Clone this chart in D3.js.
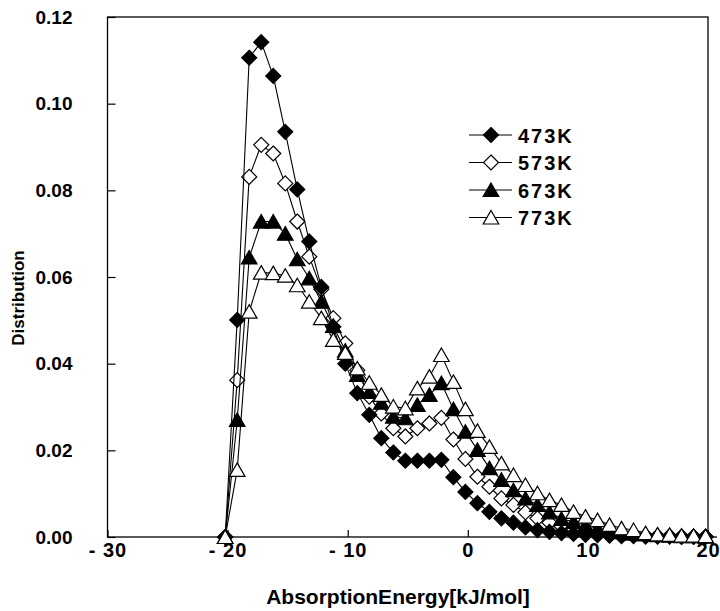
<!DOCTYPE html>
<html>
<head>
<meta charset="utf-8">
<script src="https://cdn.jsdelivr.net/npm/d3@7"></script>
<style>
  html, body { margin: 0; padding: 0; background: #fff; }
  svg { display: block; }
  text { font-family: "Liberation Sans", Arial, Helvetica, sans-serif; font-weight: bold; fill: #000; }
</style>
</head>
<body>
<svg id="chart" width="720" height="611"></svg>
<script>
// ---- data ----
const energy = [-20.2, -19.2, -18.2, -17.2, -16.2, -15.2, -14.2, -13.2, -12.2, -11.2,
  -10.2, -9.2, -8.2, -7.2, -6.2, -5.2, -4.2, -3.2, -2.2, -1.2,
  -0.2, 0.8, 1.8, 2.8, 3.8, 4.8, 5.8, 6.8, 7.8, 8.8,
  9.8, 10.8, 11.8, 12.8, 13.8, 14.8, 15.8, 16.8, 17.8, 18.8, 19.8];

const d473 = [0, 0.0501, 0.1106, 0.1142, 0.1064, 0.0935, 0.0802, 0.0682, 0.0577, 0.0485,
  0.0400, 0.0332, 0.0282, 0.0228, 0.0195, 0.0176, 0.0176, 0.0176, 0.0178, 0.0138,
  0.0104, 0.0078, 0.0058, 0.0043, 0.0033, 0.0022, 0.0016, 0.0012, 0.0009, 0.0007,
  0.0005, 0.0004, 0.0003, 0.0002, 0.0002, 0.0001, 0.0001, 0.0001, 0, 0, 0];

const d573 = [0, 0.0362, 0.0831, 0.0905, 0.0885, 0.0816, 0.0728, 0.0647, 0.0572, 0.0505,
  0.0447, 0.0385, 0.0324, 0.0285, 0.0251, 0.0232, 0.0251, 0.0262, 0.0275, 0.0225,
  0.0180, 0.0139, 0.0116, 0.0089, 0.0074, 0.0057, 0.0043, 0.0033, 0.0025, 0.0019,
  0.0014, 0.0010, 0.0008, 0.0006, 0.0004, 0.0003, 0.0002, 0.0002, 0.0001, 0.0001, 0.0001];

const d673 = [0, 0.0270, 0.0645, 0.0728, 0.0728, 0.0700, 0.0641, 0.0597, 0.0543, 0.0487,
  0.0430, 0.0374, 0.0335, 0.0310, 0.0278, 0.0274, 0.0305, 0.0328, 0.0355, 0.0295,
  0.0243, 0.0201, 0.0159, 0.0132, 0.0108, 0.0089, 0.0074, 0.0057, 0.0042, 0.0035,
  0.0027, 0.0020, 0.0015, 0.0011, 0.0008, 0.0006, 0.0004, 0.0003, 0.0002, 0.0002, 0.0001];

const d773 = [0, 0.0155, 0.0520, 0.0610, 0.0609, 0.0603, 0.0581, 0.0543, 0.0505, 0.0455,
  0.0425, 0.0389, 0.0356, 0.0328, 0.0301, 0.0297, 0.0343, 0.0370, 0.0420, 0.0358,
  0.0295, 0.0245, 0.0208, 0.0170, 0.0143, 0.0120, 0.0101, 0.0085, 0.0074, 0.0058,
  0.0047, 0.0039, 0.0028, 0.0020, 0.0016, 0.0009, 0.0006, 0.0005, 0.0003, 0.0003, 0.0002];

const seriesNames = ["473K", "573K", "673K", "773K"];
const xTicks = [-30, -20, -10, 0, 10, 20];
const xTickLabels = ["- 30", "- 20", "- 10", "0", "10", "20"];
const yTicks = [0, 0.02, 0.04, 0.06, 0.08, 0.10, 0.12];
const yTickLabels = ["0.00", "0.02", "0.04", "0.06", "0.08", "0.10", "0.12"];
const xTitle = "AbsorptionEnergy[kJ/mol]";
const yTitle = "Distribution";

// ---- layout ----
const L = 107.5, R = 708, T = 17, B = 537;
const svg = d3.select("#chart");
const x = d3.scaleLinear().domain([-30, 20]).range([L, R]);
const y = d3.scaleLinear().domain([0, 0.12]).range([B, T]);

// marker shapes
const diamondPath = "M0,-7.5L7.5,0L0,7.5L-7.5,0Z";
const trianglePath = "M0,-7L7.8,6.5L-7.8,6.5Z";
const styles = {
  "473K": { path: diamondPath, fill: "#000" },
  "573K": { path: diamondPath, fill: "#fff" },
  "673K": { path: trianglePath, fill: "#000" },
  "773K": { path: trianglePath, fill: "#fff" }
};
const dataByName = { "473K": d473, "573K": d573, "673K": d673, "773K": d773 };

// frame
svg.append("rect").attr("x", L).attr("y", T).attr("width", R - L).attr("height", B - T)
  .attr("fill", "none").attr("stroke", "#000").attr("stroke-width", 1.3);
svg.append("line").attr("x1", R).attr("x2", R + 9).attr("y1", B).attr("y2", B)
  .attr("stroke", "#000").attr("stroke-width", 1.3);

// axes
const xAxis = d3.axisBottom(x).tickValues(xTicks).tickSizeInner(-7).tickSizeOuter(0)
  .tickPadding(6).tickFormat((d, i) => xTickLabels[i]);
const gx = svg.append("g").attr("transform", `translate(0,${B})`).call(xAxis);
gx.select(".domain").remove();
gx.selectAll("line").attr("stroke", "#000").attr("stroke-width", 1.2);
gx.selectAll("text").attr("font-size", 20).attr("font-family", "Liberation Sans, Arial, sans-serif")
  .attr("font-weight", "bold").attr("fill", "#000").attr("letter-spacing", 1);

const yAxis = d3.axisLeft(y).tickValues(yTicks).tickSizeInner(-8).tickSizeOuter(0)
  .tickPadding(35).tickFormat((d, i) => yTickLabels[i]);
const gy = svg.append("g").attr("transform", `translate(${L},0)`).call(yAxis);
gy.select(".domain").remove();
gy.selectAll("line").attr("stroke", "#000").attr("stroke-width", 1.2);
gy.selectAll("text").attr("font-size", 19).attr("font-family", "Liberation Sans, Arial, sans-serif")
  .attr("font-weight", "bold").attr("fill", "#000");

// titles
svg.append("text").attr("x", 398).attr("y", 604).attr("text-anchor", "middle")
  .attr("font-size", 21).text(xTitle);
svg.append("text").attr("transform", "translate(24,298) rotate(-90)").attr("text-anchor", "middle")
  .attr("font-size", 17).text(yTitle);

// series
const line = d3.line().x((d, i) => x(energy[i])).y(d => y(d));
const drawOrder = ["573K", "473K", "673K", "773K"];
drawOrder.forEach(name => {
  const vals = dataByName[name];
  const g = svg.append("g");
  g.append("path").attr("d", line(vals)).attr("fill", "none").attr("stroke", "#000").attr("stroke-width", 1.1);
  g.selectAll("path.m").data(vals).enter().append("path").attr("class", "m")
    .attr("d", styles[name].path)
    .attr("transform", (d, i) => `translate(${x(energy[i])},${y(d)})`)
    .attr("fill", styles[name].fill).attr("stroke", "#000").attr("stroke-width", 1.2);
});

// legend
const legY0 = 135, legStep = 27.5;
seriesNames.forEach((name, i) => {
  const yy = legY0 + i * legStep;
  const g = svg.append("g");
  g.append("line").attr("x1", 469).attr("x2", 512).attr("y1", yy).attr("y2", yy)
    .attr("stroke", "#000").attr("stroke-width", 1.1);
  g.append("path").attr("d", styles[name].path).attr("transform", `translate(491,${yy})`)
    .attr("fill", styles[name].fill).attr("stroke", "#000").attr("stroke-width", 1.2);
  g.append("text").attr("x", 518).attr("y", yy + 7.5).attr("font-size", 20)
    .attr("letter-spacing", 2).text(name);
});
</script>
</body>
</html>
